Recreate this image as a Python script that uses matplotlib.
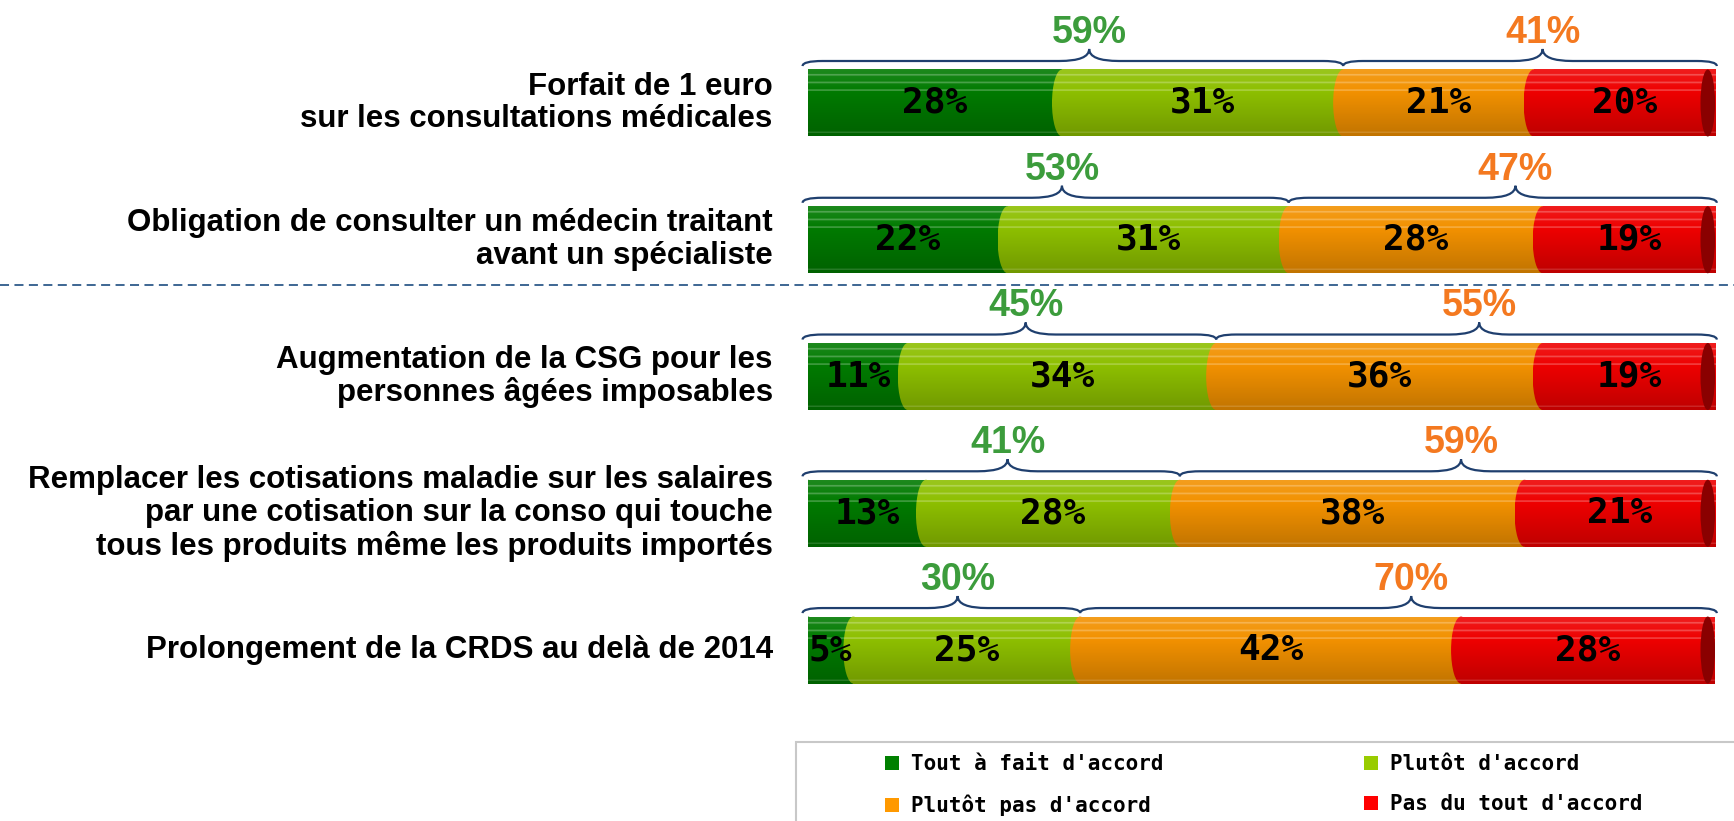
import numpy as np
import matplotlib
matplotlib.use("Agg")
import matplotlib.pyplot as plt
import matplotlib.transforms as mtransforms
from matplotlib.path import Path
from matplotlib.patches import PathPatch, Rectangle, Ellipse, Patch
from matplotlib.lines import Line2D
from matplotlib.colors import to_rgb

# data
questions = [
    "Forfait de 1 euro\nsur les consultations médicales",
    "Obligation de consulter un médecin traitant\navant un spécialiste",
    "Augmentation de la CSG pour les\npersonnes âgées imposables",
    "Remplacer les cotisations maladie sur les salaires\npar une cotisation sur la conso qui touche\ntous les produits même les produits importés",
    "Prolongement de la CRDS au delà de 2014",
]
tout_a_fait = [28, 22, 11, 13, 5]
plutot_accord = [31, 31, 34, 28, 25]
plutot_pas = [21, 28, 36, 38, 42]
pas_du_tout = [20, 19, 19, 21, 28]
total_accord = [59, 53, 45, 41, 30]
total_pas = [41, 47, 55, 59, 70]
series_names = ["Tout à fait d'accord", "Plutôt d'accord",
                "Plutôt pas d'accord", "Pas du tout d'accord"]

bar_colors = ["#007A00", "#8DBF00", "#F29100", "#EE0000"]
legend_colors = ["#008000", "#99CC00", "#FF9900", "#FF0000"]
brace_color = "#1F3F6E"
green_txt = "#3C9C3C"
orange_txt = "#F47920"

MONO = ["DejaVu Sans Mono"]
SANS = ["Liberation Sans", "DejaVu Sans"]
BAR_H = 0.49
BULGE = 1.1


def shade(c, f):
    r = np.array(to_rgb(c))
    if f > 0:
        return r + (1 - r) * f
    return r * (1 + f)


def gradient_img(color):
    t = np.linspace(0, 1, 80)[:, None]
    top, mid, bot = shade(color, 0.12), np.array(to_rgb(color)), shade(color, -0.2)
    col = np.where(t < 0.35, top + (mid - top) * (t / 0.35),
                   mid + (bot - mid) * ((t - 0.35) / 0.65))
    for tb in (0.1, 0.21, 0.32, 0.95):
        band = np.abs(t - tb) < 0.012
        col = np.where(band, col + (1 - col) * 0.25, col)
    return col[:, None, :]


def gradient_fill(ax, patch, color, x0, x1, yc, z):
    img = ax.imshow(gradient_img(color),
                    extent=(x0, x1, yc + BAR_H / 2, yc - BAR_H / 2),
                    aspect="auto", interpolation="bilinear", zorder=z)
    img.set_clip_path(patch)


def brace(ax, x0, x1, yc, xm=None):
    if xm is None:
        xm = (x0 + x1) / 2
    yb = yc - 0.27
    yf = yc - 0.307
    yp = yc - 0.395
    d_end = 2.2
    d_mid = 3.3
    verts = [(x0, yb), (x0, yf), (x0 + d_end, yf),
             (xm - d_mid, yf), (xm, yf), (xm, yp),
             (xm, yf), (xm + d_mid, yf),
             (x1 - d_end, yf), (x1, yf), (x1, yb)]
    codes = [Path.MOVETO, Path.CURVE3, Path.CURVE3,
             Path.LINETO, Path.CURVE3, Path.CURVE3,
             Path.CURVE3, Path.CURVE3,
             Path.LINETO, Path.CURVE3, Path.CURVE3]
    ax.add_patch(PathPatch(Path(verts, codes), fill=False, edgecolor=brace_color,
                           lw=1.6, zorder=6, clip_on=False))


fig = plt.figure(figsize=(17.34, 8.21), dpi=100)
ax = fig.add_axes([808 / 1734, 0, 907 / 1734, 1])

y = np.arange(len(questions))
series = [tout_a_fait, plutot_accord, plutot_pas, pas_du_tout]
left = np.zeros(len(questions))
for k, (vals, c) in enumerate(zip(series, bar_colors)):
    bars = ax.barh(y, vals, left=left, height=BAR_H, color=c, linewidth=0, zorder=1)
    z = 2 + k * 0.2
    for b, v, l, yi in zip(bars, vals, left, y):
        gradient_fill(ax, b, c, l - BULGE, l + v, yi, z)
        # rounded (cylinder) left edge of the segment
        cap = Ellipse((l, yi), 2 * BULGE, BAR_H, facecolor="none",
                      edgecolor="none", zorder=z)
        ax.add_patch(cap)
        gradient_fill(ax, cap, c, l - BULGE, l + v, yi, z + 0.1)
        ax.text(l + v / 2, yi, f"{v}%", ha="center", va="center", fontsize=26,
                fontweight="bold", family=MONO, color="black", zorder=7)
    left = left + np.array(vals)

# cylinder end caps
for yi, tot in zip(y, left):
    ax.add_patch(Ellipse((tot - 0.8, yi), 1.6, BAR_H, facecolor="#8A0000",
                         edgecolor="none", zorder=4, clip_on=False))

# braces with totals
for yi, a, p in zip(y, total_accord, total_pas):
    brace(ax, -0.6, a, yi, a / 2 + 1.5)
    brace(ax, a, 100.2, yi, a + p / 2 + 1.5)
    ax.text(a / 2 + 1.5, yi - 0.44, f"{a}%", ha="center", va="baseline",
            fontsize=27, fontweight="bold", family=SANS, color=green_txt)
    ax.text(a + p / 2 + 1.5, yi - 0.44, f"{p}%", ha="center", va="baseline",
            fontsize=27, fontweight="bold", family=SANS, color=orange_txt)

# question labels
for yi, q in zip(y, questions):
    ax.text(-3.9, yi, q, ha="right", va="center", fontsize=22.5, fontweight="bold",
            family=SANS, color="black", linespacing=1.12, clip_on=False)

# dashed separator
tr = mtransforms.blended_transform_factory(fig.transFigure, ax.transData)
fig.add_artist(Line2D([0, 1], [1.33, 1.33], transform=tr, color="#2E5A8A",
                      lw=1.3, linestyle=(0, (5, 3))))

ax.set_xlim(0, 100)
ax.set_ylim(5.25, -0.753)
ax.axis("off")

# legend
fig.add_artist(Rectangle((796 / 1734, -0.2), 1, 0.2 + 1 - 742 / 821,
                         transform=fig.transFigure, fill=False,
                         edgecolor="#C8C8C8", lw=1.5))
handles = [Patch(facecolor=c, edgecolor="none") for c in legend_colors]
order = [0, 2, 1, 3]
fig.legend([handles[i] for i in order], [series_names[i] for i in order],
           ncol=2, loc="upper left", bbox_to_anchor=(885 / 1734, 1 - 754 / 821),
           frameon=False, borderpad=0, borderaxespad=0, handlelength=0.67,
           handleheight=0.67, handletextpad=0.6, columnspacing=9.6,
           labelspacing=0.98,
           prop={"family": MONO, "weight": "bold", "size": 15})

fig.savefig("out.png", dpi=100, facecolor="white")
